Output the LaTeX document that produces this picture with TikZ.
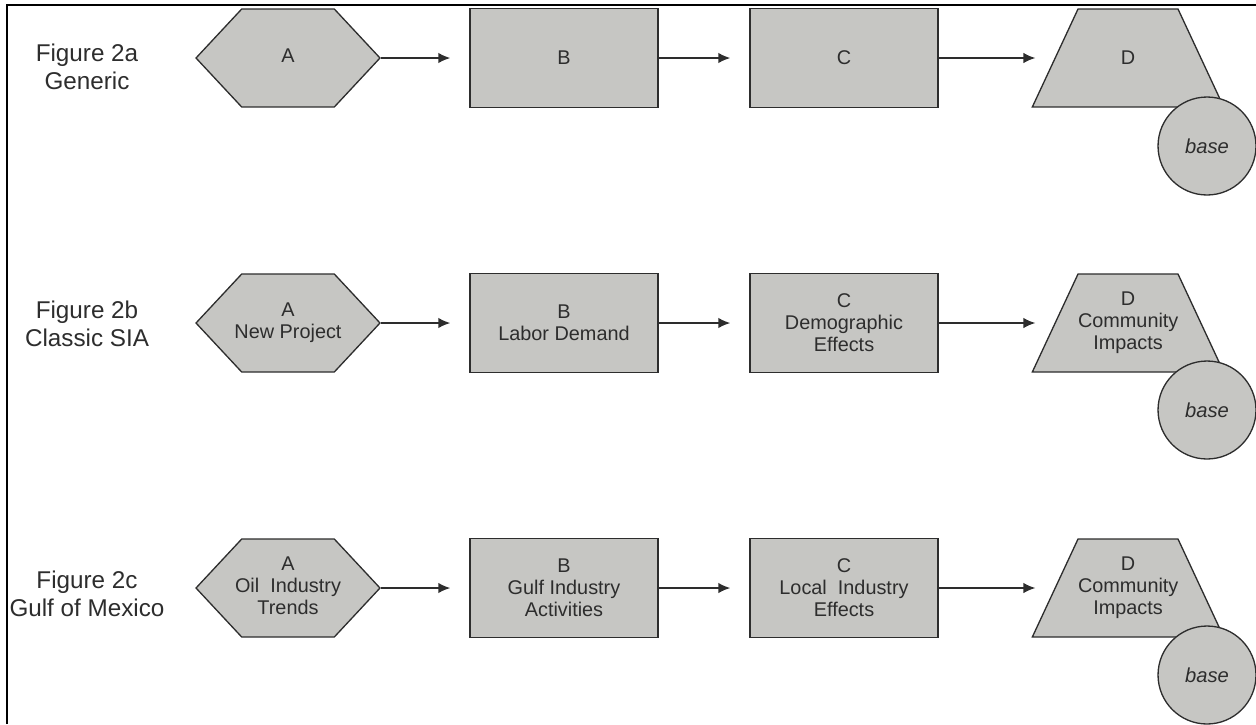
\documentclass[tikz,border=0pt]{standalone}
\usepackage{fontspec}
\setmainfont{Liberation Sans}
\usepackage{xcolor}
\usepackage{tikz}
\usetikzlibrary{
  shapes.geometric,
  shapes.symbols,
  arrows.meta
}
\definecolor{boxgray}{RGB}{198,198,195}
\definecolor{linegray}{RGB}{45,45,45}
% 文字の入れ物(形の大きさを文字で変えない)
\newcommand{\hexlines}[1]{\makebox[0pt]{\begin{tabular}{@{}c@{}}#1\end{tabular}}}
\newcommand{\traplines}[1]{\parbox[c][1.96cm][c]{2cm}{\centering #1}}

\begin{document}
\begin{tikzpicture}[%形の設定
          x=0.02cm,y=-0.02cm,
          box/.style={
              draw=linegray,
              fill=boxgray,
              line width=0.75pt,
              text=linegray,
              align=center,
              inner sep=0pt,
              font=\fontsize{11.3}{12.6}\selectfont
            },hexbox/.style={
              box,
              shape=signal,
              signal to=west and east,
              signal pointer angle=94,
              minimum width=3.68cm,
              minimum height=1.96cm
            },rectbox/.style={
              box,
              rectangle,
              minimum width=3.76cm,
              minimum height=1.98cm
            },trapbox/.style={
              box,
              trapezium,
              trapezium left angle=65,
              trapezium right angle=65
            },basecircle/.style={
              box,
              circle,
              minimum size=1.96cm,
              font=\fontsize{11.5}{13}\selectfont\itshape
            },figlabel/.style={
              align=center,
              text=linegray,
              font=\fontsize{13.8}{16}\selectfont
            },flow/.style={
              -{Latex[length=0.24cm,width=0.21cm]},
              line width=1pt,
              draw=linegray,
              shorten >=0.38cm
            }
        ]
        \useasboundingbox (0,0) rectangle (1256,724);

        % 枠
        \draw[line width=1.1pt] (7,724) -- (7,5) -- (1256,5);

        % Figure 2a
        \node[figlabel] (fig2a) at (87,67) {Figure 2a\\Generic};
        \node[hexbox] (a1) at (288,58) {\hexlines{A}};
        \node[rectbox] (b1) at (564,58) {B};
        \node[rectbox] (c1) at (844,58) {C};
        \node[trapbox] (d1) at (1128,58) {\traplines{D}};
        \node[basecircle] (base1) at (1207,146) {base};
        \draw[flow] (a1.east) -- (b1.west);
        \draw[flow] (b1.east) -- (c1.west);
        \draw[flow] (c1.east) -- (d1);

        % Figure 2b
        \node[figlabel] (fig2b) at (87,324) {Figure 2b\\Classic SIA};
        \node[hexbox] (a2) at (288,323) {\hexlines{A\\New Project}};
        \node[rectbox] (b2) at (564,323) {B\\Labor Demand};
        \node[rectbox] (c2) at (844,323) {C\\Demographic\\Effects};
        \node[trapbox] (d2) at (1128,323) {\traplines{D\\Community\\Impacts}};
        \node[basecircle] (base2) at (1207,410) {base};
        \draw[flow] (a2.east) -- (b2.west);
        \draw[flow] (b2.east) -- (c2.west);
        \draw[flow] (c2.east) -- (d2);

        % Figure 2c
        \node[figlabel] (fig2c) at (87,594) {Figure 2c\\Gulf of Mexico};
        \node[hexbox] (a3) at (288,588) {\hexlines{A\\Oil\ \ Industry\\Trends}};
        \node[rectbox] (b3) at (564,588) {B\\Gulf Industry\\Activities};
        \node[rectbox] (c3) at (844,588) {C\\Local\ \ Industry\\Effects};
        \node[trapbox] (d3) at (1128,588) {\traplines{D\\Community\\Impacts}};
        \node[basecircle] (base3) at (1207,675) {base};
        \draw[flow] (a3.east) -- (b3.west);
        \draw[flow] (b3.east) -- (c3.west);
        \draw[flow] (c3.east) -- (d3);

      \end{tikzpicture}
\end{document}
